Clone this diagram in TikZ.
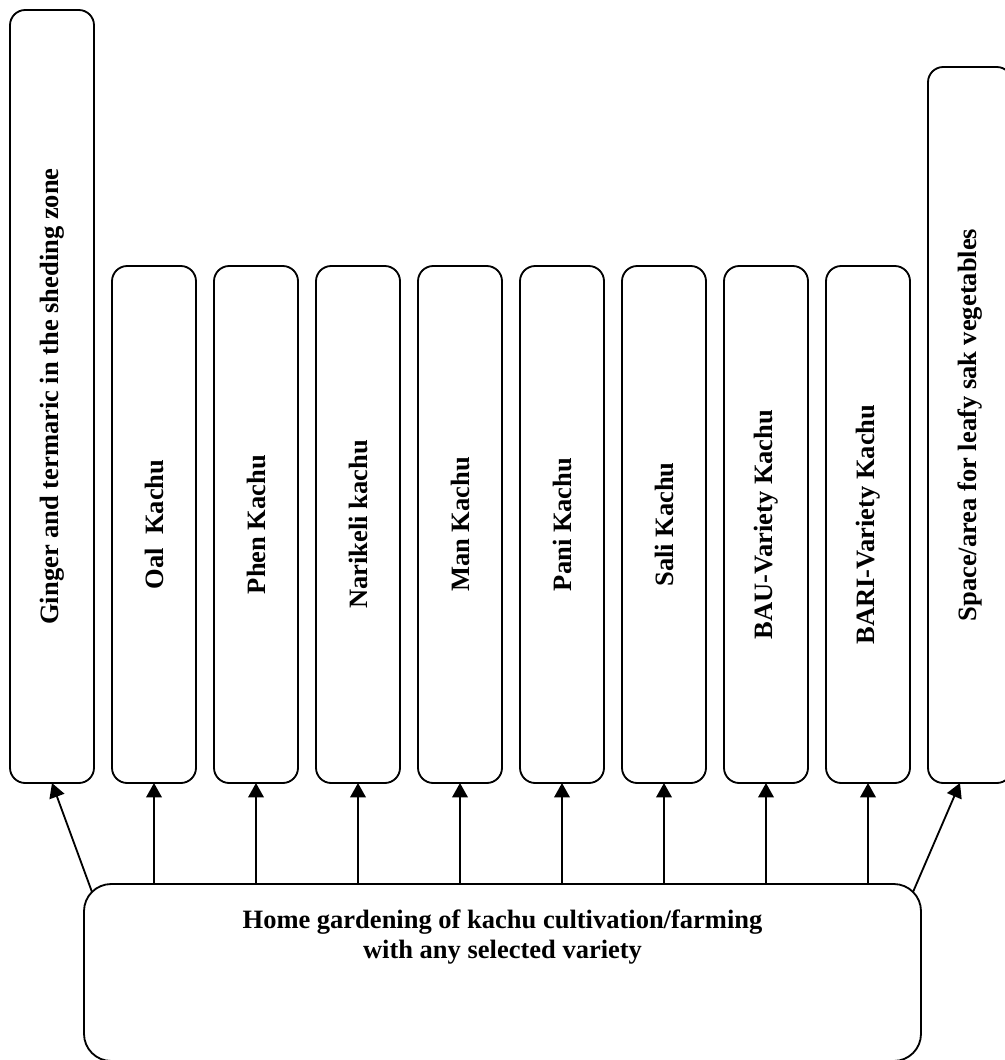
\documentclass[tikz,border=0pt]{standalone}
\usepackage{fontspec}
\setmainfont{Liberation Serif}
\usepackage{tikz}
\usetikzlibrary{arrows.meta,positioning}
\newcommand{\kfont}{\fontsize{18.85}{21.35}\selectfont\bfseries}
\tikzset{
  crop/.style={rectangle,rounded corners=3.8mm,draw=black,line width=1.3pt,minimum width=2.1cm,inner sep=0pt,outer sep=0pt,font=\kfont},
  base/.style={rectangle,rounded corners=6.8mm,draw=black,line width=1.3pt,minimum width=20.925cm,inner sep=0pt,outer sep=0pt,font=\kfont},
  edge/.style={-{Triangle[length=3.6mm,width=3.9mm]},line width=1.3pt,draw=black}
}
\begin{document}
\begin{tikzpicture}[node distance=0.45cm]
\useasboundingbox (0,0) rectangle (25.1,-26.5);
% row of beds
\node[crop,minimum height=12.925cm] (oal) at (3.85,-13.1125) {\rotatebox{90}{Oal\ \ Kachu}};
\node[crop,minimum height=12.925cm,right=of oal] (phen) {\rotatebox{90}{Phen Kachu}};
\node[crop,minimum height=12.925cm,right=of phen] (nari) {\rotatebox{90}{Narikeli kachu}};
\node[crop,minimum height=12.925cm,right=of nari] (man) {\rotatebox{90}{Man Kachu}};
\node[crop,minimum height=12.925cm,right=of man] (pani) {\rotatebox{90}{Pani Kachu}};
\node[crop,minimum height=12.925cm,right=of pani] (sali) {\rotatebox{90}{Sali Kachu}};
\node[crop,minimum height=12.925cm,right=of sali] (bau) {\rotatebox{90}{BAU-Variety Kachu}};
\node[crop,minimum height=12.925cm,right=of bau] (bari) {\rotatebox{90}{BARI-Variety Kachu}};
\node[crop,minimum height=19.325cm,left=of oal.south west,anchor=south east] (ginger) {\rotatebox{90}{Ginger and termaric in the sheding zone}};
\node[crop,minimum height=17.9cm,right=of bari.south east,anchor=south west] (leafy) {\rotatebox{90}{Space/area for leafy sak vegetables}};
% home garden
\node[base,anchor=north] (home) at (12.5625,-22.1) {\parbox[c][4.425cm][t]{20cm}{\centering\rule{0pt}{1.1cm}Home gardening of kachu cultivation/farming\\with any selected variety}};
% arrows
\draw[edge] ([shift={(0.2,-0.2)}]home.north west) -- (ginger.south);
\draw[edge] (oal.south |- home.north) -- (oal.south);
\draw[edge] (phen.south |- home.north) -- (phen.south);
\draw[edge] (nari.south |- home.north) -- (nari.south);
\draw[edge] (man.south |- home.north) -- (man.south);
\draw[edge] (pani.south |- home.north) -- (pani.south);
\draw[edge] (sali.south |- home.north) -- (sali.south);
\draw[edge] (bau.south |- home.north) -- (bau.south);
\draw[edge] (bari.south |- home.north) -- (bari.south);
\draw[edge] ([shift={(-0.2,-0.2)}]home.north east) -- ([xshift=-0.25cm]leafy.south);
\end{tikzpicture}
\end{document}
